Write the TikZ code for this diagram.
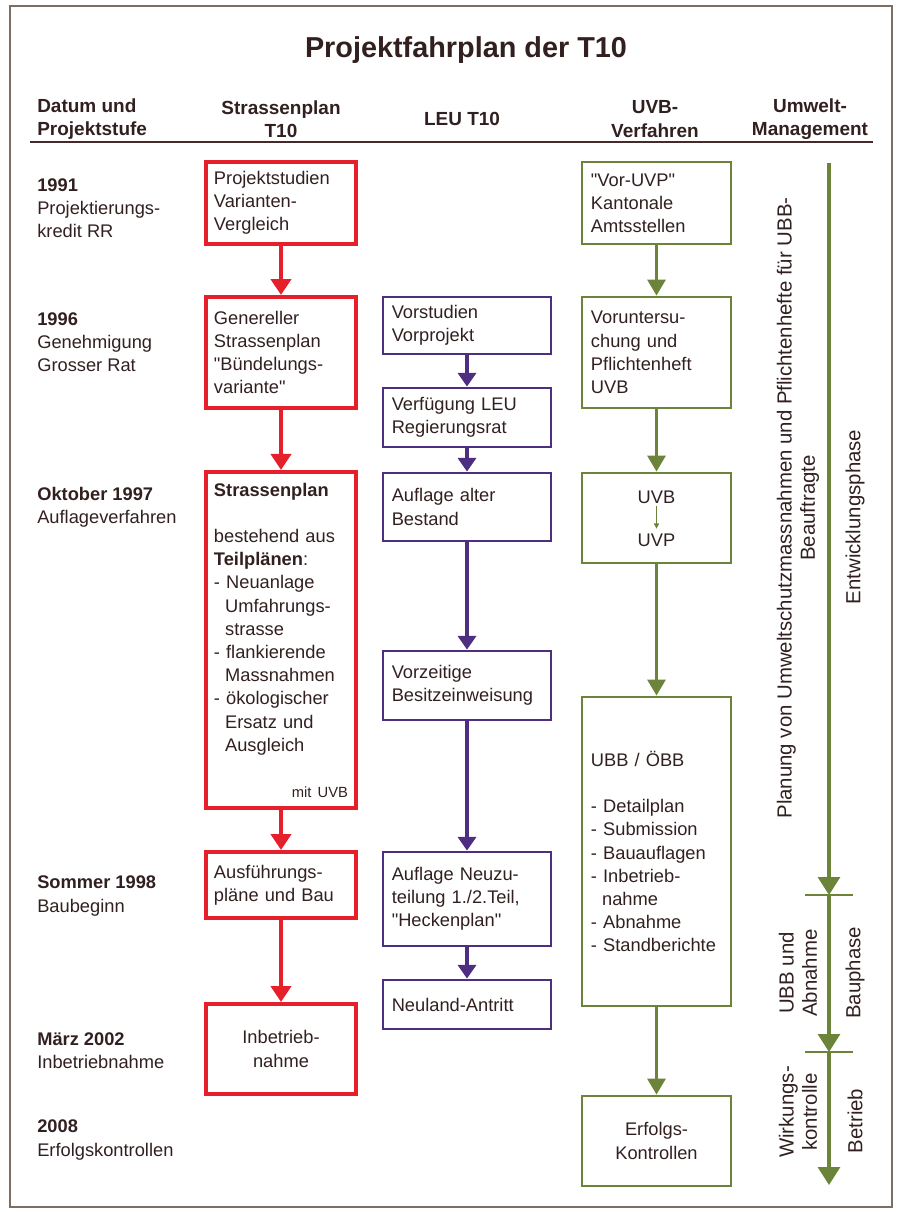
\documentclass[tikz,border=0pt]{standalone}
\usepackage{fontspec}
\setmainfont{Liberation Sans}
\usetikzlibrary{arrows.meta}

\definecolor{planred}{RGB}{230,32,42}
\definecolor{planviolet}{RGB}{78,46,128}
\definecolor{plangreen}{RGB}{108,132,58}
\definecolor{plantext}{RGB}{50,32,32}
\definecolor{planframe}{RGB}{125,110,100}
\definecolor{planrule}{RGB}{70,42,42}

\newcommand{\planfont}{\fontsize{13}{16.5}\selectfont}
\newcommand{\headfont}{\fontsize{13.5}{16.5}\selectfont\bfseries}
\newcommand{\sidefont}{\fontsize{14.5}{16.5}\selectfont}
\newcommand{\qt}{\textquotedbl}

\begin{document}
\begin{tikzpicture}[x=0.025cm, y=-0.025cm, text=plantext,
	redbox/.style={draw=planred, line width=2.8pt, minimum width=3.75cm, text width=3.35cm, inner xsep=0.2cm, font=\planfont, align=left},
	violetbox/.style={draw=planviolet, line width=2pt, minimum width=4.2cm, text width=3.76cm, inner xsep=0.22cm, font=\planfont, align=left},
	greenbox/.style={draw=plangreen, line width=2pt, minimum width=3.725cm, text width=3.275cm, inner xsep=0.225cm, font=\planfont, align=left},
	datelabel/.style={anchor=west, align=left, inner sep=0pt, font=\planfont},
	redarrow/.style={draw=planred, line width=3pt, -{Triangle[width=0.5cm,length=0.4cm]}},
	violetarrow/.style={draw=planviolet, line width=2.2pt, -{Triangle[width=0.45cm,length=0.34cm]}},
	greenarrow/.style={draw=plangreen, line width=2.2pt, -{Triangle[width=0.45cm,length=0.4cm]}},
	axisarrow/.style={draw=plangreen, line width=2.2pt, -{Triangle[width=0.55cm,length=0.45cm]}}]
	\useasboundingbox (0,0) rectangle (896,1212);
	\draw [draw=planframe, line width=1pt] (10,6) rectangle (892,1207);

	% title and column heads
	\node (title) at (466,50) {\fontsize{20.5}{24}\selectfont\bfseries Projektfahrplan der T10};
	\node (h1) [anchor=west, align=left, inner sep=0pt, font=\headfont] at (37,119) {Datum und\\Projektstufe};
	\node (h2) [align=center, font=\headfont] at (281,119) {Strassenplan\\T10};
	\node (h3) [align=center, font=\headfont] at (462,119) {LEU T10};
	\node (h4) [align=center, font=\headfont] at (655,119) {UVB-\\Verfahren};
	\node (h5) [align=center, font=\headfont] at (810,119) {Umwelt-\\Management};
	\draw [draw=planrule, line width=1.5pt] (30,142) -- (873,142);

	% dates
	\node (d1) [datelabel] at (37,208) {\textbf{1991}\\Projektierungs-\\kredit RR};
	\node (d2) [datelabel] at (37,342) {\textbf{1996}\\Genehmigung\\Grosser Rat};
	\node (d3) [datelabel] at (37,507) {\textbf{Oktober 1997}\\Auflageverfahren};
	\node (d4) [datelabel] at (37,896) {\textbf{Sommer 1998}\\Baubeginn};
	\node (d5) [datelabel] at (37,1051) {\textbf{März 2002}\\Inbetriebnahme};
	\node (d6) [datelabel] at (37,1140) {\textbf{2008}\\Erfolgskontrollen};

	% Strassenplan
	\node (r1) [redbox, minimum height=2.05cm] at (281,203) {Projektstudien\\Varianten-\\Vergleich};
	\node (r2) [redbox, minimum height=2.775cm] at (281,352.5) {Genereller\\Strassenplan\\\qt Bündelungs-\\variante\qt};
	\node (r3) [redbox, minimum height=8.4cm] at (281,640) {\textbf{Strassenplan}\\[16.5pt]bestehend aus\\\textbf{Teilplänen}:\\- Neuanlage\\\hspace*{0.61em}Umfahrungs-\\\hspace*{0.61em}strasse\\- flankierende\\\hspace*{0.61em}Massnahmen\\- ökologischer\\\hspace*{0.61em}Ersatz und\\\hspace*{0.61em}Ausgleich\\[16pt]\hspace*{\fill}{\fontsize{10.5}{12}\selectfont mit UVB}};
	\node (r4) [redbox, minimum height=1.65cm] at (281,885) {Ausführungs-\\pläne und Bau};
	\node (r5) [redbox, minimum height=2.25cm, align=center] at (281,1049) {Inbetrieb-\\nahme};
	\draw [redarrow] (r1) -- (r2);
	\draw [redarrow] (r2) -- (r3);
	\draw [redarrow] (r3) -- (r4);
	\draw [redarrow] (r4) -- (r5);

	% LEU T10
	\node (p1) [violetbox, minimum height=1.425cm] at (467,325.5) {Vorstudien\\Vorprojekt};
	\node (p2) [violetbox, minimum height=1.475cm] at (467,417.5) {Verfügung LEU\\Regierungsrat};
	\node (p3) [violetbox, minimum height=1.7cm] at (467,507) {Auflage alter\\Bestand};
	\node (p4) [violetbox, minimum height=1.725cm] at (467,685.5) {Vorzeitige\\Besitzeinweisung};
	\node (p5) [violetbox, minimum height=2.35cm] at (467,899) {Auflage Neuzu-\\teilung 1./2.Teil,\\\qt Heckenplan\qt};
	\node (p6) [violetbox, minimum height=1.225cm] at (467,1004.5) {Neuland-Antritt};
	\draw [violetarrow] (p1) -- (p2);
	\draw [violetarrow] (p2) -- (p3);
	\draw [violetarrow] (p3) -- (p4);
	\draw [violetarrow] (p4) -- (p5);
	\draw [violetarrow] (p5) -- (p6);

	% UVB-Verfahren
	\node (g1) [greenbox, minimum height=2.05cm] at (656.5,203) {\qt Vor-UVP\qt\\Kantonale\\Amtsstellen};
	\node (g2) [greenbox, minimum height=2.775cm] at (656.5,352.5) {Voruntersu-\\chung und\\Pflichtenheft\\UVB};
	\node (g3) [greenbox, minimum height=2.25cm] at (656.5,518) {};
	\node (uvb) [font=\planfont] at (656.5,497) {UVB};
	\node (uvp) [font=\planfont] at (656.5,540) {UVP};
	\node (g4) [greenbox, minimum height=7.725cm] at (656.5,851.5) {UBB / ÖBB\\[16.5pt]- Detailplan\\- Submission\\- Bauauflagen\\- Inbetrieb-\\\hspace*{0.61em}nahme\\- Abnahme\\- Standberichte};
	\node (g5) [greenbox, minimum height=2.25cm, align=center] at (656.5,1141) {Erfolgs-\\Kontrollen};
	\draw [draw=plangreen, line width=0.6pt, -{Triangle[width=0.13cm,length=0.13cm]}, shorten <=-2pt] (uvb) -- (uvp);
	\draw [greenarrow] (g1) -- (g2);
	\draw [greenarrow] (g2) -- (g3);
	\draw [greenarrow] (g3) -- (g4);
	\draw [greenarrow] (g4) -- (g5);

	% Umwelt-Management
	\coordinate (a0) at (829,163);
	\coordinate (a1) at (829,895);
	\coordinate (a2) at (829,1052);
	\coordinate (a3) at (829,1185);
	\draw [axisarrow] (a0) -- (a1);
	\draw [axisarrow] (a1) -- (a2);
	\draw [axisarrow] (a2) -- (a3);
	\draw [draw=plangreen, line width=2pt] (805,895) -- (853,895);
	\draw [draw=plangreen, line width=2pt] (805,1052) -- (853,1052);
	\node (s1) [rotate=90, align=center, font=\sidefont] at (798,508) {Planung von Umweltschutzmassnahmen und Pflichtenhefte für UBB-\\Beauftragte};
	\node (s2) [rotate=90, font=\sidefont] at (855,517) {Entwicklungsphase};
	\node (s3) [rotate=90, align=center, font=\sidefont] at (798,973) {UBB und\\Abnahme};
	\node (s4) [rotate=90, font=\sidefont] at (855,973) {Bauphase};
	\node (s5) [rotate=90, align=center, font=\sidefont] at (798,1112) {Wirkungs-\\kontrolle};
	\node (s6) [rotate=90, font=\sidefont] at (855,1121) {Betrieb};
\end{tikzpicture}
\end{document}
